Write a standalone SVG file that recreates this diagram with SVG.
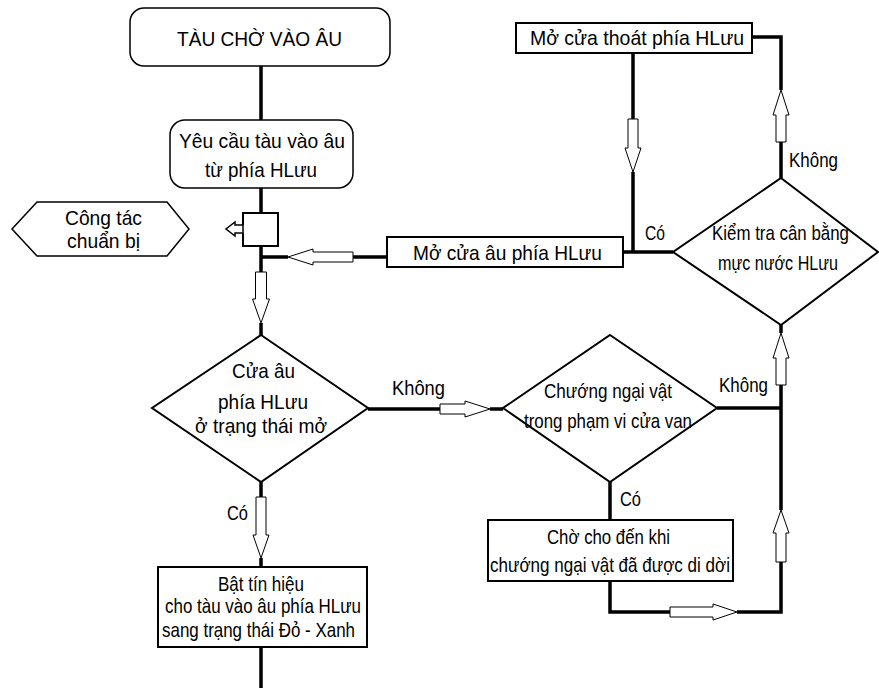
<svg xmlns="http://www.w3.org/2000/svg" width="879" height="688" viewBox="0 0 879 688">
<style>
  text { font-family: "Liberation Sans", Arial, sans-serif; font-size: 21px; fill: #000; }
  .box { fill: #fff; stroke: #000; stroke-width: 2; }
  .thin { fill: #fff; stroke: #000; stroke-width: 1.5; }
  .dia { fill: #fff; stroke: #000; stroke-width: 2; }
  .conn { fill: none; stroke: #000; stroke-width: 3.5; }
  .arr { fill: #fff; stroke: #000; stroke-width: 1; }
</style>
<rect width="879" height="688" fill="#fff"/>

<g id="connectors">
  <path class="conn" d="M261,66 V120 M261,188 V213 M261,246 V272 M261,323 V335 M261,257 H288 M353,257 H387"/>
  <path class="conn" d="M752,37 H781 V90 M781,142 V178 M633,53 V119 M633,172 V252 M623,252 H673"/>
  <path class="conn" d="M368,409 H440 M490,409 H503 M717,408 H781 M781,325 V333 M781,385 V510 M781,562 V612 H737 M670,612 H610 V581 M610,482 V520"/>
  <path class="conn" d="M261,482 V497 M261,558 V567 M261,647 V688"/>
  <polygon class="arr" points="255.5,272 266.5,272 266.5,299 269.5,299 261,323 252.5,299 255.5,299"/>
  <polygon class="arr" points="353,252 353,262 313,262 313,265 288,257 313,249 313,252"/>
  <polygon class="arr" points="628,119 638,119 638,148 641,148 633,172 625,148 628,148"/>
  <polygon class="arr" points="776,142 786,142 786,115 789,115 781,90 773,115 776,115"/>
  <polygon class="arr" points="440,404 465,404 465,401 490,409 465,417 465,414 440,414"/>
  <polygon class="arr" points="776,385 786,385 786,358 789,358 781,333 773,358 776,358"/>
  <polygon class="arr" points="776,562 786,562 786,533 789,533 781,510 773,533 776,533"/>
  <polygon class="arr" points="670,607 713,607 713,604 737,612 713,620 713,617 670,617"/>
  <polygon class="arr" points="256,497 266,497 266,535 269,535 261,558 253,535 256,535"/>
  <text x="227" y="520" textLength="21" lengthAdjust="spacingAndGlyphs">Có</text>
  <text x="392" y="395" textLength="53" lengthAdjust="spacingAndGlyphs">Không</text>
  <text x="719" y="392" textLength="49" lengthAdjust="spacingAndGlyphs">Không</text>
  <text x="620" y="506" textLength="21" lengthAdjust="spacingAndGlyphs">Có</text>
  <text x="789" y="167" textLength="49" lengthAdjust="spacingAndGlyphs">Không</text>
  <text x="645" y="240" textLength="20" lengthAdjust="spacingAndGlyphs">Có</text>
</g>

<g id="start">
  <rect class="thin" x="130" y="8" width="260" height="58" rx="14"/>
  <text x="177" y="46" textLength="165" lengthAdjust="spacingAndGlyphs">TÀU CHỜ VÀO ÂU</text>
</g>

<g id="request">
  <rect class="thin" x="170" y="120" width="183" height="68" rx="15"/>
  <text x="179" y="148" textLength="166" lengthAdjust="spacingAndGlyphs">Yêu cầu tàu vào âu</text>
  <text x="205" y="177" textLength="112" lengthAdjust="spacingAndGlyphs">từ phía HLưu</text>
</g>

<g id="preparation">
  <polygon class="thin" points="12,229 37,202 167,202 189,229 167,256 37,256"/>
  <text x="65" y="225" textLength="77" lengthAdjust="spacingAndGlyphs">Công tác</text>
  <text x="67" y="248" textLength="73" lengthAdjust="spacingAndGlyphs">chuẩn bị</text>
</g>

<g id="offpage">
  <path class="box" d="M243,225 V213 H278 V246 H243 V233"/>
  <polygon class="box" style="stroke-width:1.5" points="243,225 235,225 235,222 226,229 235,236 235,233 243,233"/>
</g>

<g id="open-exit">
  <rect class="box" x="516" y="23" width="236" height="30"/>
  <text x="530" y="45" textLength="214" lengthAdjust="spacingAndGlyphs">Mở cửa thoát phía HLưu</text>
</g>

<g id="open-gate">
  <rect class="box" x="387" y="237" width="236" height="30"/>
  <text x="413" y="260" textLength="189" lengthAdjust="spacingAndGlyphs">Mở cửa âu phía HLưu</text>
</g>

<g id="check-level">
  <polygon class="dia" points="781,178 878,252 781,325 673,252"/>
  <text x="712" y="240" textLength="137" lengthAdjust="spacingAndGlyphs">Kiểm tra cân bằng</text>
  <text x="718" y="270" textLength="120" lengthAdjust="spacingAndGlyphs">mực nước HLưu</text>
</g>

<g id="gate-open">
  <polygon class="dia" points="261,335 368,408 261,482 152,408"/>
  <text x="232" y="378" textLength="63" lengthAdjust="spacingAndGlyphs">Cửa âu</text>
  <text x="218" y="409" textLength="90" lengthAdjust="spacingAndGlyphs">phía HLưu</text>
  <text x="195" y="433" textLength="132" lengthAdjust="spacingAndGlyphs">ở trạng thái mở</text>
</g>

<g id="obstacle">
  <polygon class="dia" points="610,335 717,408 610,482 503,408"/>
  <text x="544" y="398" textLength="128" lengthAdjust="spacingAndGlyphs">Chướng ngại vật</text>
  <text x="524" y="428" textLength="168" lengthAdjust="spacingAndGlyphs">trong phạm vi cửa van</text>
</g>

<g id="wait">
  <rect class="box" x="488" y="520" width="245" height="61"/>
  <text x="547" y="544" textLength="123" lengthAdjust="spacingAndGlyphs">Chờ cho đến khi</text>
  <text x="490" y="572" textLength="240" lengthAdjust="spacingAndGlyphs">chướng ngại vật đã được di dời</text>
</g>

<g id="signal">
  <rect class="box" x="158" y="567" width="209" height="80"/>
  <text x="218" y="591" textLength="86" lengthAdjust="spacingAndGlyphs">Bật tín hiệu</text>
  <text x="165" y="613" textLength="196" lengthAdjust="spacingAndGlyphs">cho tàu vào âu phía HLưu</text>
  <text x="162" y="637" textLength="193" lengthAdjust="spacingAndGlyphs">sang trạng thái Đỏ - Xanh</text>
</g>
</svg>
